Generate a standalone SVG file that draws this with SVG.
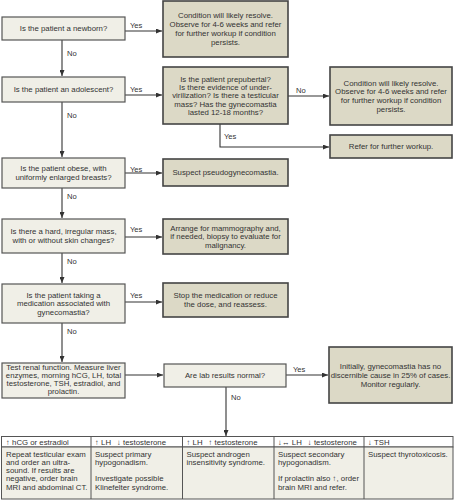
<svg xmlns="http://www.w3.org/2000/svg" width="454" height="500" viewBox="0 0 454 500">
<style>
text{font-family:"Liberation Sans",Arial,sans-serif;font-size:7.8px;fill:#333}
.c{text-anchor:middle}
.lbl{font-size:7.6px}
.q{fill:#f0efe7;stroke:#555;stroke-width:1.2}
.a{fill:#dcd9c6;stroke:#444;stroke-width:1.6}
.ln{fill:none;stroke:#333;stroke-width:1.1}
.th{fill:#fff;stroke:#555;stroke-width:1}
.tb{fill:#f0efe7;stroke:#555;stroke-width:1}
</style>
<defs>
<marker id="ah" markerWidth="6" markerHeight="5" refX="6" refY="2.5" orient="auto" markerUnits="userSpaceOnUse"><path d="M0,0 L6,2.5 L0,5z" fill="#333"/></marker>
</defs>
<rect width="454" height="500" fill="#fff"/>
<g id="connectors">
<path class="ln" d="M62,40 V76" marker-end="url(#ah)"/>
<path class="ln" d="M62,102 V157" marker-end="url(#ah)"/>
<path class="ln" d="M62,188 V218" marker-end="url(#ah)"/>
<path class="ln" d="M62,253 V283" marker-end="url(#ah)"/>
<path class="ln" d="M62,323 V362" marker-end="url(#ah)"/>
<path class="ln" d="M125,31 H162" marker-end="url(#ah)"/>
<path class="ln" d="M125,95 H162" marker-end="url(#ah)"/>
<path class="ln" d="M125,173 H162" marker-end="url(#ah)"/>
<path class="ln" d="M125,237 H162" marker-end="url(#ah)"/>
<path class="ln" d="M125,302 H162" marker-end="url(#ah)"/>
<path class="ln" d="M125,375 H163" marker-end="url(#ah)"/>
<path class="ln" d="M288,96 H329" marker-end="url(#ah)"/>
<path class="ln" d="M220,124 V147 H329" marker-end="url(#ah)"/>
<path class="ln" d="M286,375 H328" marker-end="url(#ah)"/>
<path class="ln" d="M226,387 V436" marker-end="url(#ah)"/>
<text class="lbl" x="130" y="28.4">Yes</text>
<text class="lbl" x="130" y="91.7">Yes</text>
<text class="lbl" x="130" y="171.7">Yes</text>
<text class="lbl" x="130" y="231.7">Yes</text>
<text class="lbl" x="130" y="298.4">Yes</text>
<text class="lbl" x="67" y="56">No</text>
<text class="lbl" x="67" y="118">No</text>
<text class="lbl" x="67" y="199">No</text>
<text class="lbl" x="67" y="263.5">No</text>
<text class="lbl" x="67" y="334">No</text>
<text class="lbl" x="296" y="92.7">No</text>
<text class="lbl" x="224" y="139.4">Yes</text>
<text class="lbl" x="293" y="372">Yes</text>
<text class="lbl" x="231" y="399.7">No</text>
</g>
<g id="q-newborn"><rect class="q" x="2" y="17" width="123" height="23"/><text class="c" x="63.5" y="31.3">Is the patient a newborn?</text></g>
<g id="a-newborn"><rect class="a" x="163" y="1" width="125" height="56"/>
<text class="c" x="225.5" y="18.3">Condition will likely resolve.</text>
<text class="c" x="225.5" y="27.1">Observe for 4-6 weeks and refer</text>
<text class="c" x="225.5" y="35.9">for further workup if condition</text>
<text class="c" x="225.5" y="44.7">persists.</text></g>
<g id="q-adolescent"><rect class="q" x="2" y="77" width="123" height="25"/><text class="c" x="63.5" y="92.3">Is the patient an adolescent?</text></g>
<g id="q-prepubertal"><rect class="a" x="163" y="67" width="125" height="57"/>
<text class="c" x="225.5" y="81.9">Is the patient prepubertal?</text>
<text class="c" x="225.5" y="90.1">Is there evidence of under-</text>
<text class="c" x="225.5" y="98.3">virilization? Is there a testicular</text>
<text class="c" x="225.5" y="106.5">mass? Has the gynecomastia</text>
<text class="c" x="225.5" y="114.7">lasted 12-18 months?</text></g>
<g id="a-resolve2"><rect class="a" x="330" y="67" width="122" height="58"/>
<text class="c" x="391" y="85.6">Condition will likely resolve.</text>
<text class="c" x="391" y="94.4">Observe for 4-6 weeks and refer</text>
<text class="c" x="391" y="103.2">for further workup if condition</text>
<text class="c" x="391" y="112">persists.</text></g>
<g id="a-refer"><rect class="a" x="330" y="135" width="122" height="23"/><text class="c" x="391" y="149.3">Refer for further workup.</text></g>
<g id="q-obese"><rect class="q" x="2" y="158" width="123" height="30"/>
<text class="c" x="63.5" y="171.4">Is the patient obese, with</text>
<text class="c" x="63.5" y="180.2">uniformly enlarged breasts?</text></g>
<g id="a-pseudo"><rect class="a" x="163" y="159" width="125" height="27"/><text class="c" x="225.5" y="175.3">Suspect pseudogynecomastia.</text></g>
<g id="q-mass"><rect class="q" x="2" y="219" width="123" height="34"/>
<text class="c" x="63.5" y="234.4">Is there a hard, irregular mass,</text>
<text class="c" x="63.5" y="243.2">with or without skin changes?</text></g>
<g id="a-mammo"><rect class="a" x="163" y="219" width="125" height="35"/>
<text class="c" x="225.5" y="230.5">Arrange for mammography and,</text>
<text class="c" x="225.5" y="239.3">if needed, biopsy to evaluate for</text>
<text class="c" x="225.5" y="248.1">malignancy.</text></g>
<g id="q-medication"><rect class="q" x="2" y="284" width="123" height="39"/>
<text class="c" x="63.5" y="297.5">Is the patient taking a</text>
<text class="c" x="63.5" y="306.3">medication associated with</text>
<text class="c" x="63.5" y="315.1">gynecomastia?</text></g>
<g id="a-stop"><rect class="a" x="163" y="283" width="125" height="34"/>
<text class="c" x="225.5" y="298.4">Stop the medication or reduce</text>
<text class="c" x="225.5" y="307.2">the dose, and reassess.</text></g>
<g id="p-tests"><rect class="q" x="2" y="363" width="123" height="35"/>
<text class="c" x="63.5" y="369.8">Test renal function. Measure liver</text>
<text class="c" x="63.5" y="378">enzymes, morning hCG, LH, total</text>
<text class="c" x="63.5" y="386.2">testosterone, TSH, estradiol, and</text>
<text class="c" x="63.5" y="394.4">prolactin.</text></g>
<g id="q-lab"><rect class="q" x="164" y="364" width="122" height="23"/><text class="c" x="225" y="378.3">Are lab results normal?</text></g>
<g id="a-initially"><rect class="a" x="329" y="347" width="123" height="56"/>
<text class="c" x="390.5" y="369">Initially, gynecomastia has no</text>
<text class="c" x="390.5" y="377.8">discernible cause in 25% of cases.</text>
<text class="c" x="390.5" y="386.6">Monitor regularly.</text></g>
<g id="results-table">
<rect class="th" x="1.5" y="436.5" width="451.5" height="10.5"/>
<rect class="tb" x="1.5" y="447" width="451.5" height="52"/>
<path d="M91,436.5 V499 M182.5,436.5 V499 M274,436.5 V499 M364,436.5 V499" stroke="#555" stroke-width="1"/>
<text x="6" y="444.5">↑ hCG or estradiol</text>
<text x="95" y="444.5">↑ LH<tspan dx="6">↓ testosterone</tspan></text>
<text x="186.5" y="444.5">↑ LH<tspan dx="6">↑ testosterone</tspan></text>
<text x="278" y="444.5">↓↔ LH<tspan dx="6">↓ testosterone</tspan></text>
<text x="368" y="444.5">↓ TSH</text>
<text x="6" y="457.1">Repeat testicular exam</text>
<text x="6" y="465.3">and order an ultra-</text>
<text x="6" y="473.4">sound. If results are</text>
<text x="6" y="481.3">negative, order brain</text>
<text x="6" y="489.5">MRI and abdominal CT.</text>
<text x="95" y="457.1">Suspect primary</text>
<text x="95" y="465.3">hypogonadism.</text>
<text x="95" y="481.3">Investigate possible</text>
<text x="95" y="489.5">Klinefelter syndrome.</text>
<text x="186.5" y="457.1">Suspect androgen</text>
<text x="186.5" y="465.3">insensitivity syndrome.</text>
<text x="278" y="457.1">Suspect secondary</text>
<text x="278" y="465.3">hypogonadism.</text>
<text x="278" y="481.3">If prolactin also ↑, order</text>
<text x="278" y="489.5">brain MRI and refer.</text>
<text x="368" y="457.1">Suspect thyrotoxicosis.</text>
</g>
</svg>
